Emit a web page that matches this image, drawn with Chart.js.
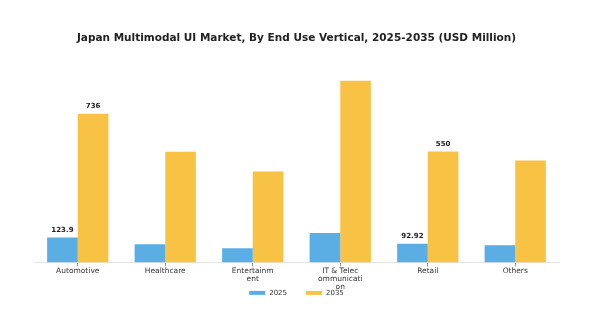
<!DOCTYPE html>
<html>
<head>
<meta charset="utf-8">
<script src="https://cdn.jsdelivr.net/npm/chart.js@4"></script>
<style>
  html,body{margin:0;padding:0;background:#fff;}
  #wrap{width:590px;height:323px;}
</style>
</head>
<body>
<div id="wrap"><canvas id="c" width="590" height="323"></canvas></div>
<script>
const categories = [['Automotive'], ['Healthcare'], ['Entertainm','ent'], ['IT & Telec','ommunicati','on'], ['Retail'], ['Others']];
const values2025 = [123.9, 90, 70, 145, 92.92, 85];
const values2035 = [736, 548, 450, 900, 550, 505];
const labeled = [0, 4]; // categories that show value labels

const valueLabels = {
  id: 'valueLabels',
  afterDatasetsDraw(chart){
    const ctx = chart.ctx;
    ctx.save();
    ctx.font = 'bold 7px "DejaVu Sans"';
    ctx.fillStyle = '#222';
    ctx.textAlign = 'center';
    ctx.textBaseline = 'bottom';
    chart.data.datasets.forEach((ds, di)=>{
      const meta = chart.getDatasetMeta(di);
      labeled.forEach(i=>{
        const bar = meta.data[i];
        ctx.fillText(String(ds.data[i]), bar.x, bar.y - 4);
      });
    });
    ctx.restore();
  }
};

// small legend tucked right under the wrapped tick labels
const bottomLegend = {
  id: 'bottomLegend',
  afterDraw(chart){
    const ctx = chart.ctx;
    const sets = chart.data.datasets;
    const boxW = 16, boxH = 4, gapText = 4, gapItem = 19;
    ctx.save();
    ctx.font = '7px "DejaVu Sans"';
    ctx.textBaseline = 'middle';
    const widths = sets.map(ds => boxW + gapText + ctx.measureText(ds.label).width);
    const total = widths.reduce((s,w)=>s+w,0) + gapItem*(sets.length-1);
    let x = (chart.chartArea.left + chart.chartArea.right)/2 - total/2;
    const y = chart.scales.x.top + 30.5;
    sets.forEach((ds,i)=>{
      ctx.fillStyle = ds.backgroundColor;
      ctx.fillRect(x, y - boxH/2, boxW, boxH);
      ctx.fillStyle = '#333';
      ctx.fillText(ds.label, x + boxW + gapText, y);
      x += widths[i] + gapItem;
    });
    ctx.restore();
  }
};

new Chart(document.getElementById('c').getContext('2d'), {
  type: 'bar',
  data: {
    labels: categories,
    datasets: [
      { label: '2025', data: values2025, backgroundColor: '#5aaee3' },
      { label: '2035', data: values2035, backgroundColor: '#f8c244' }
    ]
  },
  options: {
    responsive: false,
    animation: false,
    layout: { padding: { left: 34, right: 31, top: 32, bottom: 31 } },
    datasets: { bar: { categoryPercentage: 0.7, barPercentage: 1.0 } },
    scales: {
      x: {
        grid: { offset: false, drawOnChartArea: false, color: '#999', tickLength: 4 },
        border: { color: '#e6e6e6' },
        ticks: { font: { family: 'DejaVu Sans', size: 7.5, lineHeight: 1.05 }, color: '#333', padding: 1, maxRotation: 0, autoSkip: false }
      },
      y: { display: false, min: 0, max: 1000 }
    },
    plugins: {
      title: {
        display: true,
        text: 'Japan Multimodal UI Market, By End Use Vertical, 2025-2035 (USD Million)',
        font: { family: 'DejaVu Sans', size: 10.5, weight: 'bold' },
        color: '#222',
        padding: { top: 0, bottom: 16 }
      },
      legend: { display: false },
      tooltip: { enabled: false }
    }
  },
  plugins: [valueLabels, bottomLegend]
});
</script>
</body>
</html>
